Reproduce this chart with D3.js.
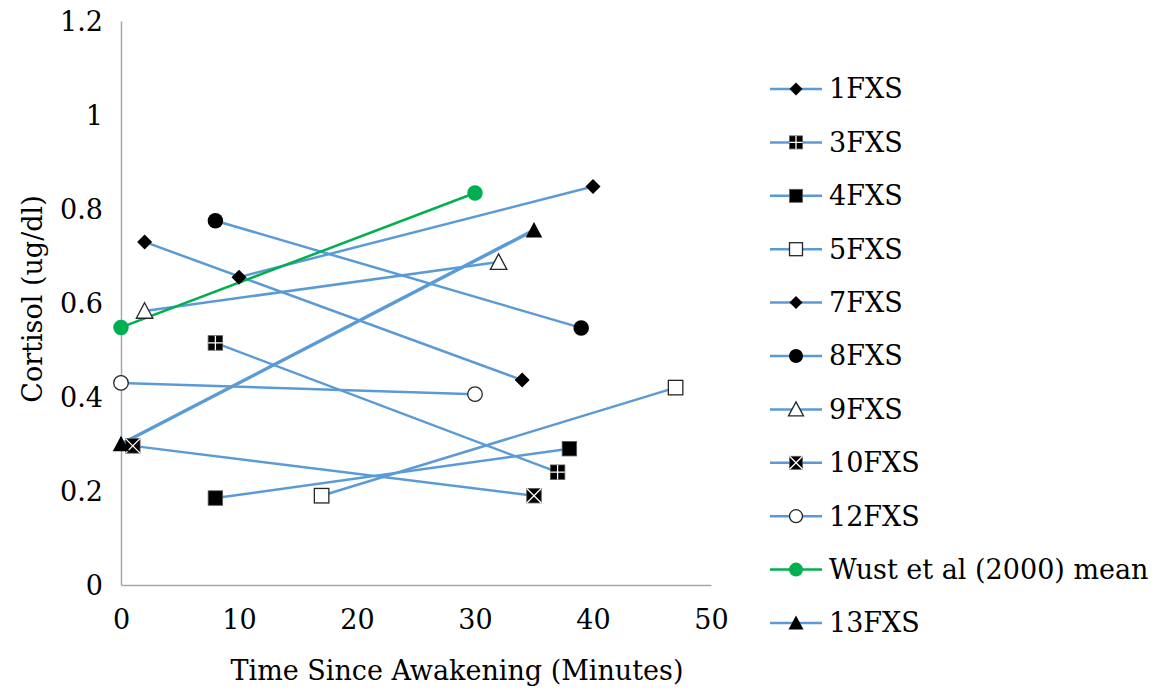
<!DOCTYPE html>
<html lang="en">
<head>
  <meta charset="UTF-8">
  <title>Cortisol</title>
  <style>
    body, html { margin: 0; padding: 0; background: #fff; }
    svg { display: block; }
    text { font-family: 'DejaVu Serif', serif; fill: #000; }
  </style>
</head>
<body>
  <svg id="svg" width="1156" height="691"></svg>

  <script src="https://d3js.org/d3.v7.min.js"></script>
  <script>
    // series names, in legend order
    const labels = ['1FXS', '3FXS', '4FXS', '5FXS', '7FXS', '8FXS', '9FXS', '10FXS', '12FXS', 'Wust et al (2000) mean', '13FXS']
    // minutes after waking for each series
    const times = [[2, 34], [8, 37], [8, 38], [17, 47], [10, 40], [8, 39], [2, 32], [1, 35], [0, 30], [0, 30], [0, 35]]
    // cortisol values (ug/dl)
    const cortisol = [[0.73, 0.436], [0.515, 0.24], [0.185, 0.29], [0.19, 0.42], [0.655, 0.848], [0.775, 0.547],
                      [0.583, 0.687], [0.296, 0.19], [0.43, 0.406], [0.548, 0.834], [0.30, 0.755]]
    const markers = ['diamond', 'squarePlus', 'square', 'openSquare', 'diamond', 'circle', 'openTriangle', 'squareX', 'openCircle', 'greenCircle', 'triangle']
    const xTicks = [0, 10, 20, 30, 40, 50]
    const yTicks = [0, 0.2, 0.4, 0.6, 0.8, 1, 1.2]

    const blue = '#5b9bd5'
    const green = '#00b050'

    const svg = d3.select('#svg')
    const x = d3.scaleLinear().domain([0, 50]).range([121, 711])
    const y = d3.scaleLinear().domain([0, 1.2]).range([585, 21])

    // axes (gray lines, no tick marks)
    const xAxis = svg.append('g').attr('transform', `translate(0, ${y(0)})`)
      .call(d3.axisBottom(x).tickValues(xTicks).tickSize(0).tickPadding(25).tickFormat(d3.format('d')))
    const yAxis = svg.append('g').attr('transform', `translate(${x(0)}, 0)`)
      .call(d3.axisLeft(y).tickValues(yTicks).tickSize(0).tickPadding(18).tickFormat(d => d3.format('')(d)))
    ;[xAxis, yAxis].forEach(a => {
      a.select('.domain').attr('stroke', '#a6a6a6').attr('stroke-width', 1.5)
      a.selectAll('text').attr('font-family', "'DejaVu Serif', serif").attr('font-size', 27).attr('fill', '#000')
    })
    yAxis.selectAll('text').attr('dy', '0.35em')
    xAxis.selectAll('text').attr('dy', '0.71em')

    svg.append('text')
      .attr('x', 457).attr('y', 680)
      .attr('text-anchor', 'middle')
      .attr('font-size', 27)
      .text('Time Since Awakening (Minutes)')

    svg.append('text')
      .attr('transform', 'translate(42, 299) rotate(-90)')
      .attr('text-anchor', 'middle')
      .attr('font-size', 27)
      .text('Cortisol (ug/dl)')

    // draw a marker into group g, s = size
    const drawMarker = (g, type, s) => {
      const h = s / 2
      if (type === 'diamond') {
        g.append('path').attr('d', `M0,${-h}L${h},0L0,${h}L${-h},0Z`).attr('fill', '#000')
      } else if (type === 'square' || type === 'squarePlus' || type === 'squareX') {
        g.append('rect').attr('x', -h).attr('y', -h).attr('width', s).attr('height', s)
          .attr('fill', '#000').attr('stroke', '#595959').attr('stroke-width', 0.8)
        if (type === 'squarePlus') {
          g.append('path').attr('d', `M0,${-h}V${h}M${-h},0H${h}`).attr('stroke', '#fff').attr('stroke-width', 1.3)
        }
        if (type === 'squareX') {
          g.append('path').attr('d', `M${-h},${-h}L${h},${h}M${-h},${h}L${h},${-h}`).attr('stroke', '#fff').attr('stroke-width', 1.3)
        }
      } else if (type === 'openSquare') {
        g.append('rect').attr('x', -h).attr('y', -h).attr('width', s).attr('height', s)
          .attr('fill', '#fff').attr('stroke', '#262626').attr('stroke-width', 1.3)
      } else if (type === 'circle' || type === 'greenCircle') {
        g.append('circle').attr('r', h + 0.5).attr('fill', type === 'circle' ? '#000' : green)
      } else if (type === 'openCircle') {
        g.append('circle').attr('r', h).attr('fill', '#fff').attr('stroke', '#262626').attr('stroke-width', 1.3)
      } else if (type === 'triangle' || type === 'openTriangle') {
        g.append('path').attr('d', `M0,${-h - 1}L${h + 1},${h}L${-h - 1},${h}Z`)
          .attr('fill', type === 'triangle' ? '#000' : '#fff')
          .attr('stroke', type === 'triangle' ? 'none' : '#262626').attr('stroke-width', 1.3)
      }
    }

    const line = d3.line().x(d => x(d[0])).y(d => y(d[1]))

    labels.forEach((name, i) => {
      const pts = times[i].map((t, j) => [t, cortisol[i][j]])
      const col = markers[i] === 'greenCircle' ? green : blue
      svg.append('path')
        .datum(pts)
        .attr('d', line)
        .attr('fill', 'none')
        .attr('stroke', col)
        .attr('stroke-width', name === '13FXS' ? 3.5 : 2.5)
    })

    labels.forEach((name, i) => {
      const pts = times[i].map((t, j) => [t, cortisol[i][j]])
      pts.forEach(p => {
        const g = svg.append('g').attr('transform', `translate(${x(p[0])}, ${y(p[1])})`)
        drawMarker(g, markers[i], markers[i] === 'diamond' ? 15 : 14.5)
      })
    })

    // legend
    const legend = svg.append('g')
    labels.forEach((name, i) => {
      const ly = 89 + i * 53.4
      const col = markers[i] === 'greenCircle' ? green : blue
      const item = legend.append('g').attr('transform', `translate(0, ${ly})`)
      item.append('line').attr('x1', 770).attr('x2', 822).attr('y1', 0).attr('y2', 0)
        .attr('stroke', col).attr('stroke-width', 2.5)
      const g = item.append('g').attr('transform', 'translate(796, 0)')
      drawMarker(g, markers[i], 13)
      item.append('text').attr('x', 829).attr('y', 0).attr('dy', '0.35em')
        .attr('font-size', 27).text(name)
    })
  </script>
</body>
</html>
